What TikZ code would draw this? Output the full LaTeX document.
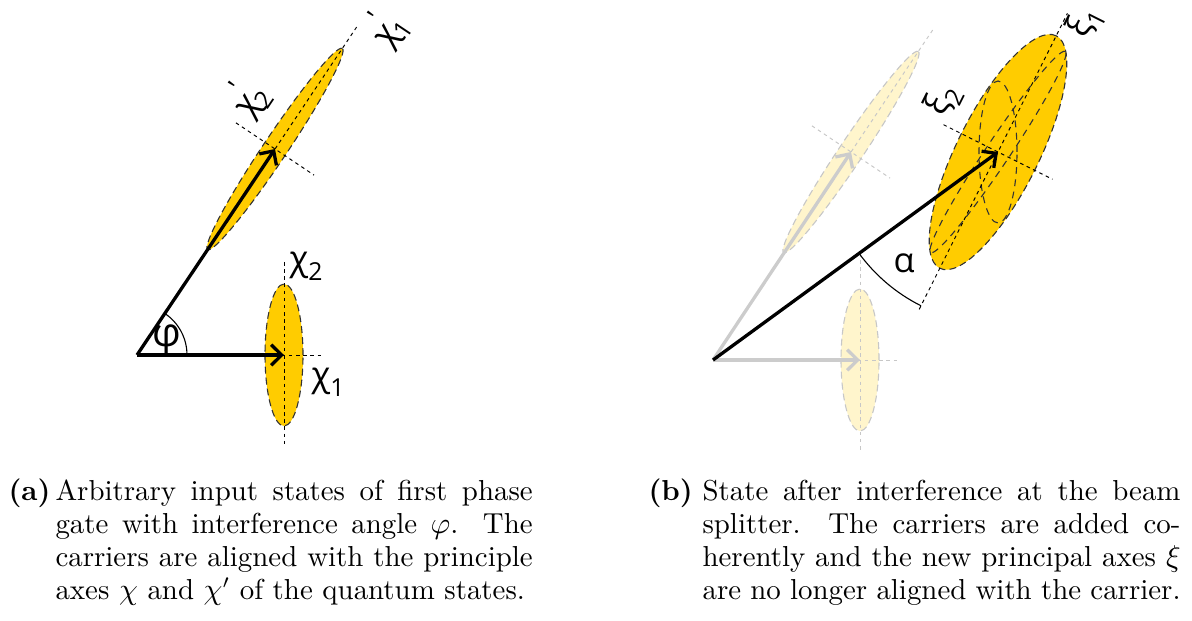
\documentclass[tikz,border=0pt]{standalone}
\usepackage{fontspec}
\newfontfamily\gk{Open Sans}
\usetikzlibrary{arrows.meta,calc}
\definecolor{gold}{RGB}{255,204,0}
\definecolor{goldl}{RGB}{255,245,204}
\newcommand\lsub[1]{\raisebox{-0.28em}{\fontsize{9}{9}\selectfont #1}}
\newcommand\lprime{\kern-0.1em\raisebox{0.55em}{\fontsize{10}{10}\selectfont ′}\kern-0.15em}
\tikzset{
 ell/.style={fill=gold, draw=black!80, line width=0.4pt, dash pattern=on 2.5pt off 1.5pt},
 ellf/.style={fill=goldl, draw=black!22, line width=0.4pt, dash pattern=on 2.5pt off 1.5pt},
 innerell/.style={draw=black!80, line width=0.4pt, dash pattern=on 2.5pt off 2pt},
 ax/.style={draw=black, line width=0.35pt, dash pattern=on 1.3pt off 1.3pt},
 axf/.style={draw=black!22, line width=0.35pt, dash pattern=on 1.3pt off 1.3pt},
 vec/.style={line width=1.2pt, -{Straight Barb[length=3.8pt,width=7.5pt]}},
 vecf/.style={vec, draw=black!20},
 lbl/.style={font=\gk\fontsize{12.5}{14}\selectfont, inner sep=0pt},
 capt/.style={anchor=base west, inner sep=0pt, font=\fontsize{10.5}{12}\selectfont},
}
\begin{document}
\begin{tikzpicture}[x=0.3636pt,y=0.3636pt]
\useasboundingbox (0,0) rectangle (1192,-621);
% ---------- panel (a)
\coordinate (O) at (137,-355);
\coordinate (E1) at (284,-355);
\coordinate (E2) at (275,-149);
\path[ell] (E1) ellipse [x radius=19, y radius=71];
\path[ell, rotate around={56.2:(E2)}] (E2) ellipse [x radius=121, y radius=12];
\draw[ax] ($(E1)+(0,93)$) -- ($(E1)+(0,-92)$);
\draw[ax] ($(E1)+(-38,0)$) -- ($(E1)+(38,0)$);
\draw[ax] ($(E2)+(236.2:150)$) -- ($(E2)+(56.2:150)$);
\draw[ax] ($(E2)+(146.2:47)$) -- ($(E2)+(-33.8:47)$);
\draw[line width=0.4pt] ($(O)+(50,0)$) arc[start angle=0, end angle=56.2, radius=50];
\draw[vec] (O) -- (E1);
\draw[vec] (O) -- (E2);
\node[lbl, font=\gk\fontsize{14.5}{16}\selectfont] (phi) at (167,-340) {φ};
\node[lbl] (chi1) at (328,-382) {χ\lsub{1}};
\node[lbl] (chi2) at (306,-266) {χ\lsub{2}};
\node[lbl, rotate=56.2] (chip2) at (247,-98) {χ\lprime\lsub{2}};
\node[lbl, rotate=56.2] (chip1) at (386,-28) {χ\lprime\lsub{1}};
% ---------- panel (b)
\coordinate (P) at (713,-360);
\coordinate (F1) at (860,-360);
\coordinate (F2) at (851,-152);
\coordinate (S) at (998,-152);
\path[ellf] (F1) ellipse [x radius=19, y radius=71];
\path[ellf, rotate around={56.2:(F2)}] (F2) ellipse [x radius=121, y radius=12];
\draw[axf] ($(F1)+(0,107)$) -- ($(F1)+(0,-92)$);
\draw[axf] ($(F1)+(-38,0)$) -- ($(F1)+(38,0)$);
\draw[axf] ($(F2)+(236.2:150)$) -- ($(F2)+(56.2:150)$);
\draw[axf] ($(F2)+(146.2:47)$) -- ($(F2)+(-33.8:47)$);
\draw[vecf] (P) -- (F1);
\draw[vecf] (P) -- (F2);
\path[ell, rotate around={63.4:(S)}] (S) ellipse [x radius=130, y radius=41];
\draw[innerell] (S) ellipse [x radius=19, y radius=71];
\draw[innerell, rotate around={56.2:(S)}] (S) ellipse [x radius=121, y radius=12];
\draw[ax] ($(S)+(243.4:176)$) -- ($(S)+(63.4:155)$);
\draw[ax] ($(S)+(153.4:61)$) -- ($(S)+(-26.6:61)$);
\draw[line width=0.4pt] ($(S)+(216.1:172)$) arc[start angle=216.1, end angle=243.4, radius=172];
\draw[vec] (P) -- (S);
\node[lbl] (alpha) at (904,-263) {α};
\node[lbl, rotate=63.4] (xi2) at (943,-100) {ξ\lsub{2}};
\node[lbl, rotate=63.4] (xi1) at (1085,-22) {ξ\lsub{1}};
% ---------- captions
\node[capt] (la) at (8,-500) {\textbf{(a)}};
\node[capt] (ca) at (55,-500) {\parbox[t]{173.5pt}{Arbitrary input states of first phase\linebreak gate with interference angle $\varphi$. The\linebreak carriers are aligned with the principle\linebreak axes $\chi$ and $\chi'$ of the quantum states.}};
\node[capt] (lb) at (648,-500) {\textbf{(b)}};
\node[capt] (cb) at (702,-500) {\parbox[t]{173.8pt}{State after interference at the beam\linebreak splitter. The carriers are added co-\linebreak herently and the new principal axes $\xi$\linebreak are no longer aligned with the carrier.}};
\end{tikzpicture}
\end{document}
